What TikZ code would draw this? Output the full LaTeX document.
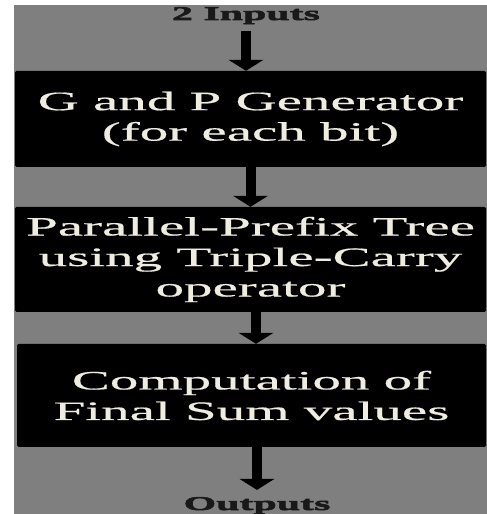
\documentclass[tikz,border=0pt]{standalone}
\usepackage{fontspec}
\usepackage{xcolor}
\usepackage{tikz}
\usetikzlibrary{arrows.meta,positioning}
\newfontfamily\boxfont[FakeStretch=2.15,FakeBold=0.6]{Liberation Serif}
\newfontfamily\tagfont[FakeStretch=2.15,FakeBold=3]{Liberation Serif}
\definecolor{pbg}{HTML}{7F7F7F}
\definecolor{pcream}{HTML}{EFECE0}

\begin{document}
\begin{tikzpicture}[x=1pt,y=1pt,
    stage/.style={fill=black,rounded corners=1.5pt,text=pcream,align=center,
      font=\boxfont\fontsize{26.5}{30.5}\selectfont,minimum width=471pt},
    tag/.style={inner xsep=0pt,inner ysep=7pt,text=black!90,
      font=\tagfont\bfseries\fontsize{19.5}{22}\selectfont},
    flow/.style={line width=10pt,-{Triangle[width=35pt,length=11pt,line width=0pt]}}]
  \useasboundingbox (0,0) rectangle (487,514);
  % backdrop
  \fill[pbg] (14,0) rectangle (487,509);

  % in / out labels
  \node[tag,anchor=base] (in) at (246,494) {2 Inputs};
  \node[tag,anchor=base] (out) at (257,4) {Outputs};

  % stages
  \node[stage,minimum height=96pt] (gp) at (250.5,395)
    {G and P Generator\\(for each bit)};
  \node[stage,minimum height=105pt] (tree) at (250.5,254.5)
    {Parallel-Prefix Tree\\using Triple-Carry\\operator};
  \node[stage,minimum width=469pt,minimum height=103pt] (sum) at (251.5,118.5)
    {Computation of\\Final Sum values};

  % flow arrows
  \draw[flow] (in.south) -- (in.south |- gp.north);
  \draw[flow] (gp.south) -- (gp.south |- tree.north);
  \draw[flow] ([xshift=5.5pt]tree.south) -- ([xshift=5.5pt]tree.south |- sum.north);
  \draw[flow] (sum.south -| out.north) -- (out.north);
\end{tikzpicture}
\end{document}
